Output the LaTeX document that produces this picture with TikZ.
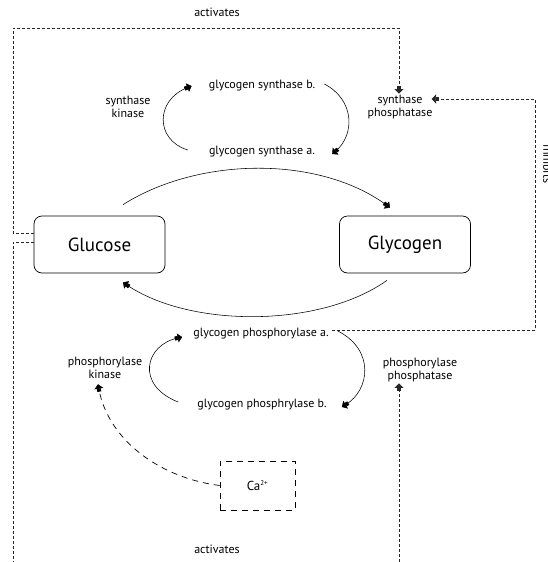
\documentclass[tikz,border=0pt]{standalone}
\usepackage{fontspec}
\setmainfont{PT Sans}
\usetikzlibrary{arrows.meta,calc}
\begin{document}
\begin{tikzpicture}[x=1pt,y=-1pt,
  lbl/.style={font=\fontsize{12}{13.5}\selectfont,align=center,inner sep=1pt},
  bigbox/.style={draw,rounded corners=8pt,minimum width=131pt,minimum height=57pt,font=\fontsize{19}{21}\selectfont,line width=0.7pt},
  tip/.style={-{Rectangle[length=3pt,width=4pt,sep=0pt]Triangle[length=4.5pt,width=9pt,sep=0pt]}},
  arc/.style={tip,line width=0.55pt},
  sdash/.style={dash pattern=on 3pt off 2pt,line width=0.8pt,draw=black!85},
  ldash/.style={dash pattern=on 6pt off 5pt,line width=0.7pt}]
\useasboundingbox (0,0) rectangle (547,562);
% nodes
\node[lbl] (act1) at (217,12) {activates};
\node[lbl] (sp) at (400,107) {synthase\\phosphatase};
\node[lbl] (sk) at (128,107) {synthase\\kinase};
\node[lbl] (gsb) at (262,86) {glycogen synthase b.};
\node[lbl] (gsa) at (262,152) {glycogen synthase a.};
\node[bigbox] (glc) at (99.5,244.5) {Glucose};
\node[bigbox] (gly) at (405,244.5) {Glycogen};
\node[lbl] (gpa) at (261,334) {glycogen phosphorylase a.};
\node[lbl] (gpb) at (262,405) {glycogen phosphrylase b.};
\node[lbl] (pk) at (105,368) {phosphorylase\\kinase};
\node[lbl] (pp) at (420,370) {phosphorylase\\phosphatase};
\node[draw,ldash,minimum width=75pt,minimum height=49pt,font=\fontsize{13}{15}\selectfont] (ca) at (257.5,485.5) {Ca\textsuperscript{\fontsize{7}{8}\selectfont 2+}};
\node[lbl] (act2) at (217,549) {activates};
\node[lbl,rotate=-90,anchor=south] (inh) at (542,164) {inhibits};
% corner coordinates
\coordinate (c1) at (13,233);
\coordinate (c2) at (13,28);
\coordinate (c3) at (399,28);
\coordinate (c4) at (13,242);
\coordinate (c5) at (13,562);
\coordinate (c6) at (399,562);
\coordinate (c7) at (535,330);
\coordinate (c8) at (535,99);
% activates (top)
\draw[sdash,tip] (glc.west |- c1) -- (c1) -- (c2) -- (c3) -- (c3 |- sp.north);
% inhibits
\draw[sdash,tip] ([xshift=2pt]gpa.east |- c7) -- (c7) -- (c8) -- ([xshift=-2pt]sp.east |- c8);
% activates (bottom)
\draw[sdash] (glc.west |- c4) -- (c4) -- (c5);
\draw[sdash,tip] (c6) -- (c6 |- pp.south);
% Ca to phosphorylase kinase
\draw[ldash,tip] (ca.west) .. controls (160,478) and (108,440) .. ([xshift=-7pt,yshift=-4pt]pk.south);
% big arcs
\draw[arc] ([xshift=23.5pt,yshift=11pt]glc.north) .. controls (200,156) and (320,156) .. ([xshift=-15pt,yshift=8pt]gly.north);
\draw[arc] ([xshift=-18pt,yshift=-7pt]gly.south) .. controls (320,328) and (190,328) .. ([xshift=23.5pt,yshift=-9pt]glc.south);
% synthase cycle
\draw[arc] ([xshift=-20pt,yshift=2pt]gsa.west) .. controls (155,140) and (155,100) .. ([xshift=-16pt]gsb.west);
\draw[arc] ([xshift=8pt,yshift=2pt]gsb.east) .. controls (355,100) and (355,135) .. ([xshift=16pt,yshift=-2pt]gsa.east);
% phosphorylase cycle
\draw[arc] ([xshift=-18pt,yshift=3pt]gpb.west) .. controls (135,385) and (145,345) .. ([xshift=-10pt,yshift=-3pt]gpa.west);
\draw[arc] ([xshift=8pt,yshift=3pt]gpa.east) .. controls (375,350) and (370,390) .. ([xshift=14pt,yshift=-2pt]gpb.east);
\end{tikzpicture}
\end{document}
